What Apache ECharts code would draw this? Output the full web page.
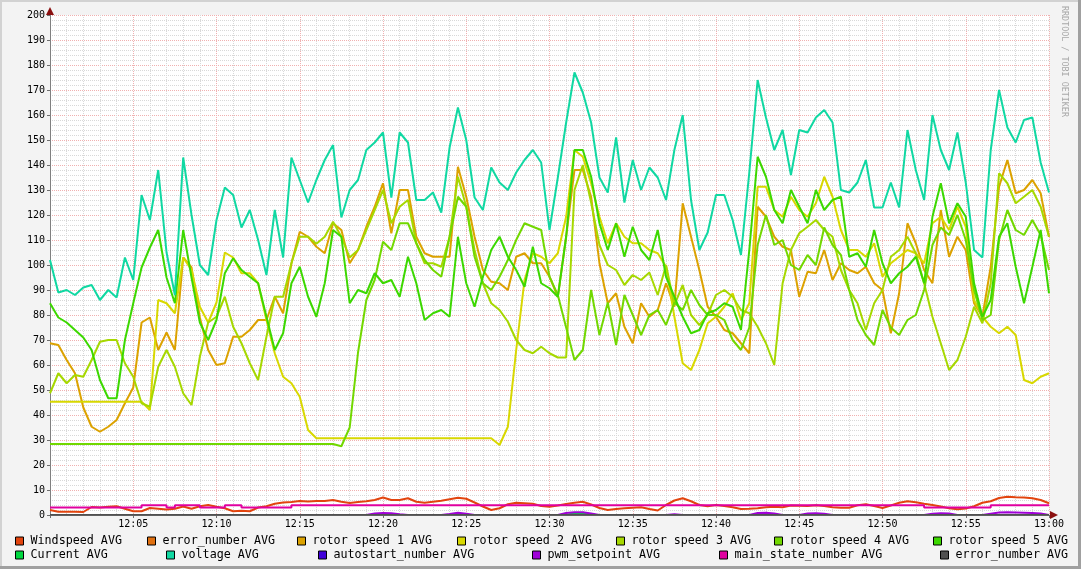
<!DOCTYPE html>
<html>
<head>
<meta charset="utf-8">
<script src="https://cdn.jsdelivr.net/npm/echarts@6/dist/echarts.min.js"></script>
<style>
html,body{margin:0;padding:0;background:#f3f3f3;}
#chart{width:1081px;height:569px;}
</style>
</head>
<body>
<div id="chart"></div>
<script>
// ---- tick labels ----
const xTickLabels = ['', '12:05', '12:10', '12:15', '12:20', '12:25', '12:30', '12:35', '12:40', '12:45', '12:50', '12:55', '13:00'];

// ---- series values, one sample every 30 s from 12:00 to 13:00 ----
const voltage = [
  102, 89, 90, 88, 91, 92, 86, 90, 87, 103,
  94, 128, 118, 138, 105, 88, 143, 120, 100, 96,
  118, 131, 128, 115, 122, 110, 96, 122, 103, 143,
  134, 125, 134, 142, 148, 119, 130, 134, 146, 149,
  153, 127, 153, 149, 126, 126, 129, 121, 147, 163,
  150, 127, 122, 139, 133, 130, 137, 142, 146, 141,
  114, 135, 157, 177, 169, 157, 135, 129, 151, 125,
  142, 130, 139, 135, 126, 146, 160, 126, 106, 113,
  128, 128, 118, 104, 137, 174, 159, 146, 154, 136,
  154, 153, 159, 162, 157, 130, 129, 133, 142, 123,
  123, 133, 123, 154, 138, 126, 160, 146, 138, 153,
  133, 106, 103, 146, 170, 155, 149, 158, 159, 141,
  129];

const rotor1 = [
  68.7, 68, 62, 56.7, 43, 35.3, 33.3, 35.3, 38, 44.7,
  51, 77, 79, 66, 73, 66, 103, 99, 79, 66,
  60, 60.7, 71.3, 71.3, 74, 78, 78, 87.3, 80.7, 100.7,
  113.3, 111.3, 107.3, 104.7, 116.7, 114, 100.7, 106, 115.3, 123.3,
  132.7, 112.7, 130, 130, 111.3, 104.7, 103.3, 103.3, 103.3, 139.3,
  127.3, 111.3, 98, 93.3, 92.7, 90, 103.3, 104.7, 100.7, 100.7,
  95.3, 87.3, 111.3, 138, 138, 127.3, 100.7, 84.7, 88.7, 75.3,
  68.7, 84.7, 79.3, 82, 92.7, 83.3, 124.7, 111.3, 98, 83.3,
  79.3, 74, 72.7, 68.7, 64.7, 123.3, 119.3, 111.3, 107.3, 106,
  87.3, 97.3, 96.7, 106, 94, 100.7, 98, 96.7, 99.3, 92.7,
  90, 72.7, 88.7, 116.7, 108.7, 98, 92.7, 122, 103.3, 111.3,
  106, 84.7, 79.3, 99.3, 131.3, 142, 128.7, 130, 134, 128.7,
  111.3];

const rotor2 = [
  45.3, 45.3, 45.3, 45.3, 45.3, 45.3, 45.3, 45.3, 45.3, 45.3,
  45.3, 45.3, 42, 86, 84.7, 80.7, 103, 98, 83.3, 77,
  85, 105, 103, 96.7, 96.7, 92.7, 78, 64.7, 55.3, 52.7,
  47.3, 34, 30.7, 30.7, 30.7, 30.7, 30.7, 30.7, 30.7, 30.7,
  30.7, 30.7, 30.7, 30.7, 30.7, 30.7, 30.7, 30.7, 30.7, 30.7,
  30.7, 30.7, 30.7, 30.7, 28, 35.3, 66, 94, 104.7, 103.3,
  100.7, 104.7, 119.3, 146, 143.3, 132.7, 119.3, 108.7, 116.7, 111.3,
  108.7, 108.7, 106, 104.7, 99.3, 79.3, 60.7, 58, 66, 76.7,
  79.3, 83.3, 88.7, 78, 84.7, 131.3, 131.3, 122, 119.3, 127.3,
  122, 119.3, 124.7, 135.3, 127.3, 114, 106, 106, 103.3, 108.7,
  95.3, 100.7, 103.3, 106, 104.7, 100.7, 116.7, 119.3, 114, 123.3,
  115.3, 86, 79.3, 75.3, 72.7, 75.3, 72, 54, 52.7, 55.3,
  56.7];

const rotor3 = [
  48.7, 56.7, 52.7, 56, 55.3, 62, 69.3, 70, 70, 60.7,
  55.3, 44.7, 43.3, 59.3, 66, 59.3, 48.7, 44, 63.3, 77,
  79.3, 87.3, 75.3, 68.7, 60.7, 54, 71.3, 87.3, 87.3, 100.7,
  111.3, 111.3, 108.5, 111.3, 117.3, 111.3, 103, 106, 114, 122,
  130, 116.7, 123.3, 126, 108.7, 100.7, 100.7, 99.3, 111.3, 135.3,
  123.3, 106, 92.7, 84.7, 82, 77.3, 70, 66, 64.7, 67.3,
  64.7, 63, 63, 130, 140, 125, 108, 100, 98, 92,
  96, 94, 97, 88, 100, 84, 92, 80, 76, 80,
  88, 90, 87.3, 82, 80.7, 75.3, 68.7, 60, 92.7, 106,
  112.7, 115.3, 118, 114, 111.3, 98, 90, 84.7, 74, 84.7,
  90, 103.3, 106, 111.3, 104.7, 92.7, 79.3, 68.7, 58, 62,
  71.3, 83.3, 76.7, 92.7, 136.7, 132.7, 124.7, 127.3, 130, 123.3,
  111.3];

const rotor4 = [
  28.4, 28.4, 28.4, 28.4, 28.4, 28.4, 28.4, 28.4, 28.4, 28.4,
  28.4, 28.4, 28.4, 28.4, 28.4, 28.4, 28.4, 28.4, 28.4, 28.4,
  28.4, 28.4, 28.4, 28.4, 28.4, 28.4, 28.4, 28.4, 28.4, 28.4,
  28.4, 28.4, 28.4, 28.4, 28.4, 27.5, 35, 65, 86, 94,
  109.3, 106, 116.7, 116.7, 108.7, 102, 98, 95.3, 111.3, 127.3,
  123.3, 103.3, 92.7, 90, 95.3, 102, 110, 116.7, 115.3, 114,
  95.3, 88, 75, 62, 66, 90, 72, 85, 68, 88,
  80, 72, 80, 82, 76, 85, 82, 90, 84, 80,
  80, 78, 70, 66, 75, 108, 120, 108, 110, 100,
  98, 104, 100, 115, 108, 104, 90, 78, 72, 68,
  82, 75, 72, 78, 80, 90, 108, 115, 112, 120,
  110, 90, 78, 80, 110, 122, 114, 112, 118, 112,
  98];

const rotor5 = [
  84.7, 79, 77, 74, 71, 66, 54, 46.7, 46.7, 70,
  84.7, 99, 107, 114, 95, 84.7, 114, 95, 77, 70,
  78, 96.7, 102.7, 98, 95.3, 92.7, 79.3, 66, 72.7, 92.7,
  99.3, 87.3, 79.3, 92.7, 114, 111.3, 84.7, 90, 88.7, 96.7,
  92.7, 94, 87.3, 103.3, 92.7, 78, 80.7, 82, 79.3, 111.3,
  92.7, 83.3, 95.3, 106, 111.3, 103.3, 98, 91.3, 107.3, 92.7,
  90.7, 87.3, 111.3, 146, 146, 135.3, 116.7, 106, 116.7, 103.3,
  115.3, 106, 102, 114, 95.3, 87.3, 79.3, 72.7, 74, 80.7,
  82, 84.7, 83.3, 74, 106, 143.3, 135.3, 122, 116.7, 130,
  123.3, 116.7, 130, 122, 126, 127.3, 103.3, 104.7, 99.3, 114,
  100.7, 92.7, 96.7, 99.3, 103.3, 92.7, 119.3, 132.7, 116.7, 124.7,
  119.3, 92.7, 79.3, 86, 111.3, 116.7, 99.3, 84.7, 99.3, 114,
  88.7];

const windspeed = [
  2.0, 1.3, 1.3, 1.3, 1.2, 3.2, 3.0, 3.3, 3.5, 2.5,
  1.5, 1.5, 2.8, 2.5, 2.2, 2.5, 3.4, 2.5, 3.5, 4.0,
  3.3, 2.7, 1.5, 1.7, 1.5, 3.0, 3.5, 4.5, 5.0, 5.2,
  5.6, 5.4, 5.6, 5.6, 6.0, 5.3, 4.8, 5.2, 5.5, 6.0,
  7.0, 6.0, 6.0, 6.7, 5.3, 4.9, 5.3, 5.7, 6.3, 6.9,
  6.5, 5.0, 3.4, 2.0, 2.7, 4.3, 4.9, 4.7, 4.5, 3.6,
  3.3, 3.8, 4.4, 4.9, 5.3, 4.2, 2.8, 2.0, 2.4, 2.7,
  2.9, 3.1, 2.4, 1.8, 4.0, 5.8, 6.7, 5.5, 4.0, 3.5,
  4.0, 3.6, 3.1, 2.4, 2.5, 2.7, 3.1, 3.3, 3.1, 3.8,
  3.7, 3.6, 3.9, 3.6, 3.1, 2.9, 2.9, 3.9, 4.3, 3.6,
  2.8, 3.8, 4.9, 5.5, 5.1, 4.5, 4.0, 3.4, 2.7, 2.3,
  2.6, 3.5, 4.9, 5.5, 6.8, 7.3, 7.1, 7.0, 6.7, 6.0,
  4.7];

const mainState = [
  3, 3, 3, 3, 3, 3, 3, 3, 3, 3,
  3, 3.9, 3.9, 3.9, 3, 3.9, 3.9, 3.9, 3, 3,
  3, 3.9, 3.9, 3, 3, 3, 3, 3, 3, 3.9,
  3.9, 3.9, 3.9, 3.9, 3.9, 3.9, 3.9, 3.9, 3.9, 3.9,
  3.9, 3.9, 3.9, 3.9, 3.9, 3.9, 3.9, 3.9, 3.9, 3.9,
  3.9, 3.9, 3.9, 3.9, 3.9, 3.9, 3.9, 3.9, 3.9, 3.9,
  3.9, 3.9, 3.9, 3.9, 3.9, 3.9, 3.9, 3.9, 3.9, 3.9,
  3.9, 3.9, 3.9, 3.9, 3.9, 3.9, 3.9, 3.9, 3.9, 3.9,
  3.9, 3.9, 3.9, 3.9, 3.9, 3.9, 3.9, 3.9, 3.9, 3.9,
  3.9, 3.9, 3.9, 3.9, 3.9, 3.9, 3.9, 3.9, 3.9, 3.9,
  3.9, 3.9, 3.9, 3.9, 3.9, 3, 3, 3, 3, 3,
  3, 3, 3, 3.9, 3.9, 3.9, 3.9, 3.9, 3.9, 3.9,
  3.9];

const pwmSetpoint = [
  0, 0, 0, 0, 0, 0, 0, 0, 0, 0,
  0, 0, 0, 0, 0, 0, 0, 0, 0, 0,
  0, 0, 0, 0, 0, 0, 0, 0, 0, 0,
  0, 0, 0, 0, 0, 0, 0, 0, 0, 0.6,
  0.8, 0.7, 0.3, 0, 0, 0, 0, 0, 0.4, 0.9,
  0.5, 0, 0, 0, 0, 0, 0, 0, 0, 0,
  0, 0, 0.8, 1.1, 1.1, 0.6, 0, 0, 0, 0,
  0, 0, 0, 0, 0, 0.3, 0, 0, 0, 0,
  0, 0, 0, 0, 0, 0.8, 0.9, 0.6, 0, 0,
  0, 0.6, 0.7, 0.5, 0, 0, 0, 0, 0, 0,
  0, 0, 0, 0, 0, 0, 0.5, 0.7, 0.6, 0,
  0, 0, 0, 0.5, 1.0, 1.1, 1.0, 0.9, 0.8, 0.6,
  0];

// sparse series (explicit sample minutes)
const currentMinutes = [0, 31, 31.5, 32, 32.5, 60];
const currentValues  = [0, 0, 0.7, 0.6, 0, 0];
const zeroMinutes = [0, 60];
const errorNumberValues = [0, 0];
const autostartValues = [0, 0];
const errorNumber2Values = [0, 0];

// ---- build ----
const sampleMinutes = voltage.map((_, i) => i * 0.5);
const pairs = (xs, ys) => ys.map((v, i) => [xs[i], v]);
const FONT = 'DejaVu Sans Mono';

function line(name, color, xs, ys, extra) {
  return Object.assign({
    name: name, type: 'line', data: pairs(xs, ys), showSymbol: false,
    symbol: 'none', color: color, lineStyle: {width: 2, color: color},
    animation: false, silent: true
  }, extra || {});
}

const series = [
  line('Windspeed AVG', '#e2440e', sampleMinutes, windspeed),
  line('error_number AVG', '#e07010', zeroMinutes, errorNumberValues),
  line('rotor speed 1 AVG', '#dca200', sampleMinutes, rotor1),
  line('rotor speed 2 AVG', '#d8d800', sampleMinutes, rotor2),
  line('rotor speed 3 AVG', '#a6d800', sampleMinutes, rotor3),
  line('rotor speed 4 AVG', '#72d800', sampleMinutes, rotor4),
  line('rotor speed 5 AVG', '#3cd800', sampleMinutes, rotor5),
  line('Current AVG', '#00d840', currentMinutes, currentValues),
  line('voltage AVG', '#10d8a2', sampleMinutes, voltage),
  line('autostart_number AVG', '#4000d8', zeroMinutes, autostartValues),
  line('pwm_setpoint AVG', '#a000d8', sampleMinutes, pwmSetpoint),
  line('main_state_number AVG', '#e000a0', sampleMinutes, mainState, {step: 'end'}),
  line('error_number AVG#2', '#505050', zeroMinutes, errorNumber2Values)
];

const legendPos = [
  ['Windspeed AVG', 15, 0], ['error_number AVG', 147, 0], ['rotor speed 1 AVG', 297, 0],
  ['rotor speed 2 AVG', 457, 0], ['rotor speed 3 AVG', 616, 0], ['rotor speed 4 AVG', 774, 0],
  ['rotor speed 5 AVG', 933, 0],
  ['Current AVG', 15, 1], ['voltage AVG', 166, 1], ['autostart_number AVG', 318, 1],
  ['pwm_setpoint AVG', 532, 1], ['main_state_number AVG', 719, 1], ['error_number AVG#2', 940, 1]
];
const legends = legendPos.map(p => ({
  data: [p[0]], left: p[1], top: p[2] === 0 ? 535 : 549, orient: 'horizontal',
  padding: 0, itemGap: 0, itemWidth: 8, itemHeight: 8, icon: 'rect',
  selectedMode: false,
  itemStyle: {borderColor: '#000', borderWidth: 1},
  formatter: n => n.replace('#2', ''),
  textStyle: {fontFamily: FONT, fontSize: 11.7, color: '#000', lineHeight: 12, padding: [0, 0, 0, 2]}
}));

const chart = echarts.init(document.getElementById('chart'), null, {renderer: 'canvas'});
chart.setOption({
  backgroundColor: '#f3f3f3',
  animation: false,
  grid: {left: 50, top: 15, width: 999, height: 500, show: true, backgroundColor: '#ffffff', borderWidth: 0, containLabel: false},
  legend: legends,
  xAxis: [{
    type: 'value', min: 0, max: 60, interval: 5,
    axisLine: {show: false},
    axisTick: {show: true, length: 3, lineStyle: {color: '#707070'}},
    minorTick: {show: false, splitNumber: 5},
    splitLine: {show: true, lineStyle: {color: '#f0b0b0', type: 'dotted', width: 1}},
    minorSplitLine: {show: true, lineStyle: {color: '#d8d8d8', type: 'dotted', width: 1}},
    axisLabel: {
      formatter: v => xTickLabels[Math.round(v / 5)] || '',
      fontFamily: FONT, fontSize: 10, color: '#000', margin: 4
    }
  }, {
    type: 'value', min: 0, max: 60, position: 'bottom', z: 10,
    axisLine: {show: true, onZero: false, lineStyle: {color: '#606060', width: 1}},
    axisTick: {show: false}, axisLabel: {show: false}, splitLine: {show: false}
  }],
  yAxis: [{
    type: 'value', min: 0, max: 200, interval: 10,
    axisLine: {show: true, onZero: false, lineStyle: {color: '#808080', width: 1}},
    axisTick: {show: true, length: 3, lineStyle: {color: '#707070'}},
    splitLine: {show: true, lineStyle: {color: '#f0b0b0', type: 'dotted', width: 1}},
    minorTick: {show: false, splitNumber: 5},
    minorSplitLine: {show: true, lineStyle: {color: '#d8d8d8', type: 'dotted', width: 1}},
    axisLabel: {fontFamily: FONT, fontSize: 10, color: '#000', margin: 5}
  }],
  series: series,
  graphic: [
    {type: 'rect', shape: {x: 0, y: 0, width: 1081, height: 2}, style: {fill: '#d2d2d2'}, silent: true},
    {type: 'rect', shape: {x: 0, y: 0, width: 2, height: 569}, style: {fill: '#d2d2d2'}, silent: true},
    {type: 'rect', shape: {x: 1078, y: 0, width: 3, height: 569}, style: {fill: '#a0a0a0'}, silent: true},
    {type: 'rect', shape: {x: 0, y: 566, width: 1081, height: 3}, style: {fill: '#a0a0a0'}, silent: true},
    {type: 'polygon', shape: {points: [[46, 15], [54, 15], [50, 7]]}, style: {fill: '#8b1010'}, z: 20, silent: true},
    {type: 'polygon', shape: {points: [[1050, 511], [1050, 519], [1058, 515]]}, style: {fill: '#8b1010'}, z: 20, silent: true},
    {type: 'text', x: 1068, y: 6, rotation: -Math.PI / 2,
     style: {text: 'RRDTOOL / TOBI OETIKER', fontFamily: FONT, fontSize: 8.4, fill: '#a8a8a8', textAlign: 'left', textVerticalAlign: 'top'},
     z: 20, silent: true}
  ]
});
</script>
</body>
</html>
